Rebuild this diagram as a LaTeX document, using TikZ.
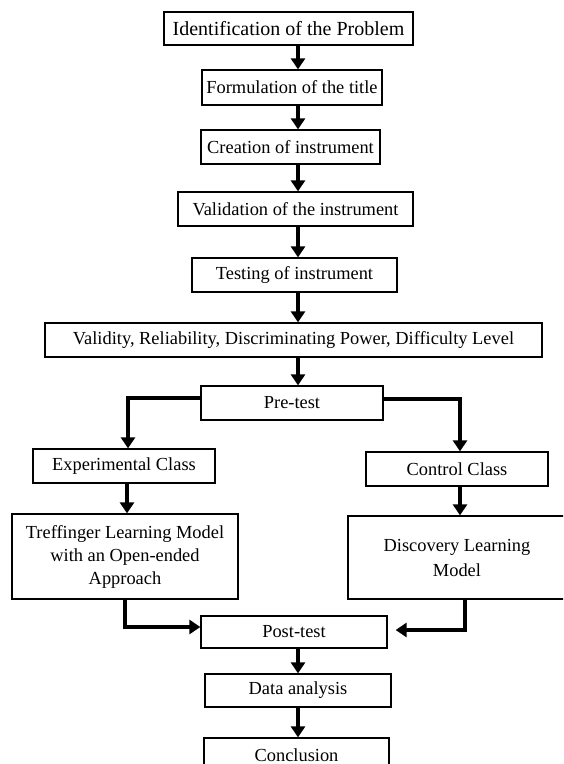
\documentclass[tikz,border=0pt]{standalone}
\usepackage{fontspec}
\setmainfont{Liberation Serif}
\usetikzlibrary{arrows.meta}
\begin{document}
\begin{tikzpicture}[x=0.5pt,y=-0.5pt,
    box/.style={draw, line width=0.65pt, inner sep=0pt, align=center,
      font=\fontsize{9.2}{11.5}\selectfont},
    arr/.style={line width=1.8pt, -{Triangle[width=7pt,length=5.5pt]}}]
  \useasboundingbox (0,0) rectangle (563,764);
  \clip (0,0) rectangle (563,764);
  % main column
  \node[box, minimum width=124.5pt, minimum height=16.5pt, font=\fontsize{10}{12}\selectfont] (ident) at (288.5,28.5) {Identification of the Problem};
  \node[box, minimum width=90pt, minimum height=17.5pt] (title) at (292,87.5) {Formulation of the title};
  \node[box, minimum width=89.5pt, minimum height=17pt] (create) at (290.5,147) {Creation of instrument};
  \node[box, minimum width=117.5pt, minimum height=17pt] (valid) at (295.5,209) {Validation of the instrument};
  \node[box, minimum width=102.5pt, minimum height=17pt] (testing) at (294.5,275) {Testing of instrument};
  \node[box, minimum width=248.5pt, minimum height=17pt] (crit) at (293.5,340) {Validity, Reliability, Discriminating Power, Difficulty Level};
  \node[box, minimum width=91pt, minimum height=17pt] (pre) at (292,403) {Pre-test};
  % two classes
  \node[box, minimum width=91pt, minimum height=17pt] (exp) at (124,466) {Experimental Class};
  \node[box, minimum width=91pt, minimum height=17pt] (ctrl) at (457,469) {Control Class};
  \node[box, minimum width=113pt, minimum height=42.5pt] (treff) at (125,556.5) {Treffinger Learning Model\\with an Open-ended\\Approach};
  \node[box, minimum width=109pt, minimum height=41.5pt, font=\fontsize{9.2}{12.5}\selectfont] (disc) at (457,557.5) {Discovery Learning\\Model};
  % end
  \node[box, minimum width=93pt, minimum height=16pt] (post) at (294,632) {Post-test};
  \node[box, minimum width=93pt, minimum height=16.5pt] (data) at (298,690.5) {Data analysis};
  \node[box, minimum width=92.5pt, minimum height=17pt] (concl) at (296.5,755) {Conclusion};

  \coordinate (spine) at (298,0);
  \draw[arr] (ident.south -| spine) -- (title.north -| spine);
  \draw[arr] (title.south -| spine) -- (create.north -| spine);
  \draw[arr] (create.south -| spine) -- (valid.north -| spine);
  \draw[arr] (valid.south -| spine) -- (testing.north -| spine);
  \draw[arr] (testing.south -| spine) -- (crit.north -| spine);
  \draw[arr] (crit.south -| spine) -- (pre.north -| spine);
  \draw[arr] ([yshift=2.5pt]pre.west) -| ([xshift=2pt]exp.north);
  \draw[arr] ([yshift=2pt]pre.east) -| ([xshift=1.5pt]ctrl.north);
  \draw[arr] ([xshift=1.5pt]exp.south) -- ([xshift=1.5pt]exp.south |- treff.north);
  \draw[arr] ([xshift=1.5pt]ctrl.south) -- ([xshift=1.5pt]ctrl.south |- disc.north);
  \draw[arr] (treff.south) |- ([yshift=2.5pt]post.west);
  \draw[arr, shorten >=4pt] ([xshift=4pt]disc.south) |- ([yshift=1pt]post.east);
  \draw[arr] (post.south -| spine) -- (data.north -| spine);
  \draw[arr] (data.south -| spine) -- (concl.north -| spine);
\end{tikzpicture}
\end{document}
